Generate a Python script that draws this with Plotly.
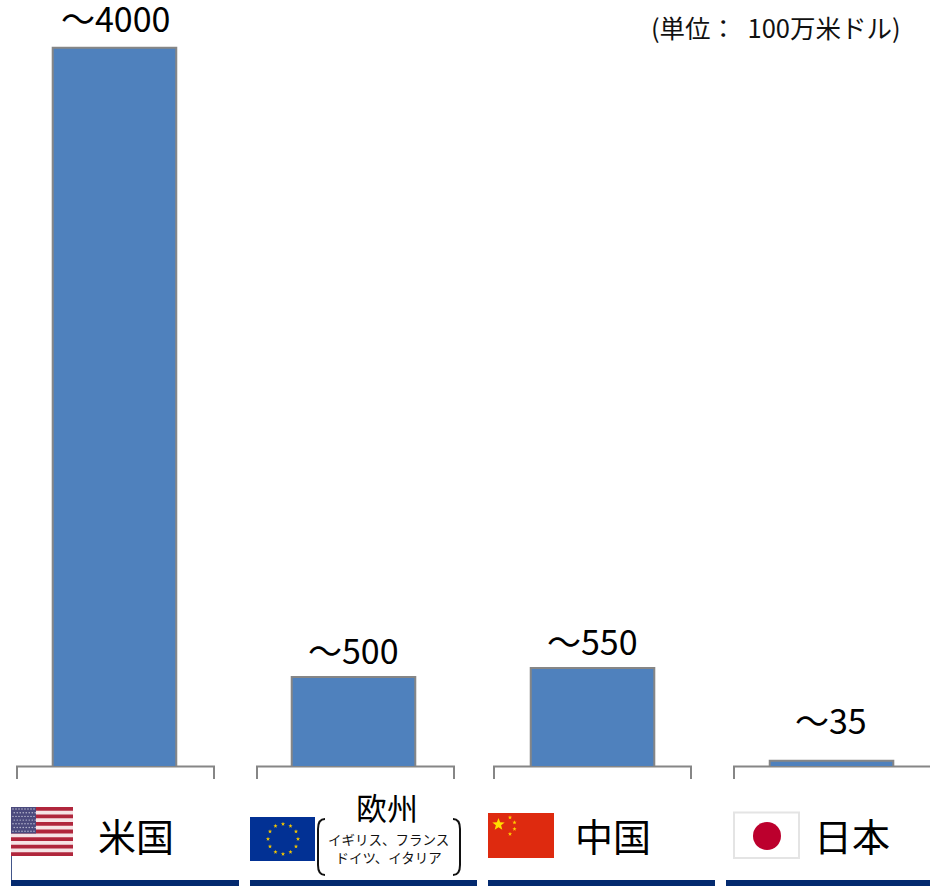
import math
import plotly.graph_objects as go

categories = ["米国", "欧州", "中国", "日本"]
values = [4000, 500, 550, 35]
value_labels = ["〜4000", "〜500", "〜550", "〜35"]
unit_label = "(単位：  100万米ドル)"
europe_detail = "イギリス、フランス<br>ドイツ、イタリア"

W, H = 930, 888
FONT = "Noto Sans CJK JP"
GREY = "#868686"
NAVY = "#042a6f"


def px(x):
    return x / W


def py(y):
    return 1 - y / H


def rect(x0, y0, x1, y1, fill, line=None, lw=0):
    return dict(type="rect", xref="paper", yref="paper", layer="below",
                x0=px(x0), x1=px(x1), y0=py(y0), y1=py(y1), fillcolor=fill,
                line=dict(color=line or fill, width=lw))


def path(points, color, width, fill=None, closed=False):
    d = "M" + " L".join(f"{px(a):.5f},{py(b):.5f}" for a, b in points) + (" Z" if closed else "")
    return dict(type="path", xref="paper", yref="paper", layer="below", path=d,
                line=dict(color=color, width=width), fillcolor=fill or "rgba(0,0,0,0)")


def star(cx, cy, r, color):
    pts = []
    for i in range(10):
        rr = r if i % 2 == 0 else r * 0.42
        a = -math.pi / 2 + i * math.pi / 5
        pts.append((cx + rr * math.cos(a), cy + rr * math.sin(a)))
    return path(pts, color, 0, fill=color, closed=True)


def dot(cx, cy, r, color):
    return dict(type="circle", xref="paper", yref="paper", layer="below",
                x0=px(cx - r), x1=px(cx + r), y0=py(cy + r), y1=py(cy - r),
                fillcolor=color, line=dict(width=0))


shapes = []
# category brackets under the bars
for a, b in [(17, 214), (257, 454), (494, 691), (734, 932)]:
    shapes.append(path([(a, 779), (a, 766.5), (b, 766.5), (b, 779)], GREY, 2))
# navy footer strips
for a, b in [(11, 239), (250, 477), (488, 715), (726, 930)]:
    shapes.append(rect(a, 880, b, 886, NAVY))

# US flag
shapes.append(path([(11.5, 856), (11.5, 880)], "#42568a", 1))
shapes.append(rect(11, 807, 73, 856, "#f6e4e6"))
for i in range(0, 13, 2):
    shapes.append(rect(11, 807 + i * 49 / 13, 73, 807 + (i + 1) * 49 / 13, "#b0263c"))
shapes.append(rect(11, 807, 36, 833.5, "#4b4a7d"))
for r_ in range(7):
    for c_ in range(8):
        shapes.append(dot(13 + c_ * 3 + (r_ % 2) * 1.2, 809 + r_ * 3.7, 0.7, "#c9c9dc"))

# EU flag
shapes.append(rect(250, 817, 315, 861, "#023194"))
for i in range(12):
    a = i * math.pi / 6
    shapes.append(star(283 + 15 * math.sin(a), 839 - 15 * math.cos(a), 2.2, "#f2c500"))

# China flag
shapes.append(rect(488, 813, 554, 858, "#de2a0f"))
shapes.append(star(498.5, 824.5, 6.5, "#ffdd00"))
for sx, sy in [(510, 817.5), (514.5, 822.5), (514.5, 829), (510, 834)]:
    shapes.append(star(sx, sy, 2.2, "#ffcc00"))

# Japan flag
shapes.append(rect(734, 812.5, 799, 858, "#ffffff", "#e4e4e4", 2))
shapes.append(dot(767, 836, 14, "#bc002d"))


# parentheses round the European country list
def paren(x_out, x_in):
    d = (f"M{px(x_in):.5f},{py(819):.5f} Q{px(x_out):.5f},{py(819):.5f} {px(x_out):.5f},{py(829):.5f} "
         f"L{px(x_out):.5f},{py(865):.5f} Q{px(x_out):.5f},{py(875):.5f} {px(x_in):.5f},{py(875):.5f}")
    return dict(type="path", xref="paper", yref="paper", layer="below", path=d,
                line=dict(color="#111111", width=2))


shapes += [paren(318, 325), paren(460, 453)]


def note(x, y, text, size, color="#000000"):
    return dict(xref="paper", yref="paper", x=px(x), y=py(y), text=text, showarrow=False,
                xanchor="center", yanchor="middle", align="center",
                font=dict(family=FONT, size=size, color=color))


label_x = [136, 387, 613, 851.5]
label_y = [834, 806, 834, 834]
label_size = [38, 31, 38, 38]
annotations = [note(x, y, c, s) for x, y, c, s in zip(label_x, label_y, categories, label_size)]
annotations.append(note(388, 848, europe_detail, 13.5, "#111111"))
annotations.append(note(776, 27, unit_label, 25.5, "#111111"))

# value labels sit above each bar, at the gap the reference leaves
label_gap = [30, 28, 28, 41]
label_dx = [1.5, 0, 0, -1]
for c, v, t, g, dx in zip(categories, values, value_labels, label_gap, label_dx):
    annotations.append(dict(xref="x", yref="y", x=c, y=v, text=t, showarrow=False,
                            xanchor="center", yanchor="middle", yshift=g, xshift=dx,
                            font=dict(family=FONT, size=34, color="#000000")))

fig = go.Figure(go.Bar(
    x=categories, y=values, width=0.517,
    marker=dict(color="#4f81bd", line=dict(color=GREY, width=2)),
    cliponaxis=False,
))
fig.update_layout(
    width=W, height=H, margin=dict(l=0, r=0, t=0, b=0), autosize=False,
    paper_bgcolor="#ffffff", plot_bgcolor="#ffffff", showlegend=False,
    shapes=shapes, annotations=annotations,
    xaxis=dict(type="category", range=[-0.479, 3.412], showticklabels=False,
               showgrid=False, zeroline=False, showline=False, ticks=""),
    yaxis=dict(range=[0, 4266], domain=[1 - 767 / H, 1], showticklabels=False,
               showgrid=False, zeroline=False, showline=False, ticks=""),
)
fig.write_html("out.html", config={"displayModeBar": False},
               post_script="document.body.style.margin='0';document.documentElement.style.overflow='hidden';")
